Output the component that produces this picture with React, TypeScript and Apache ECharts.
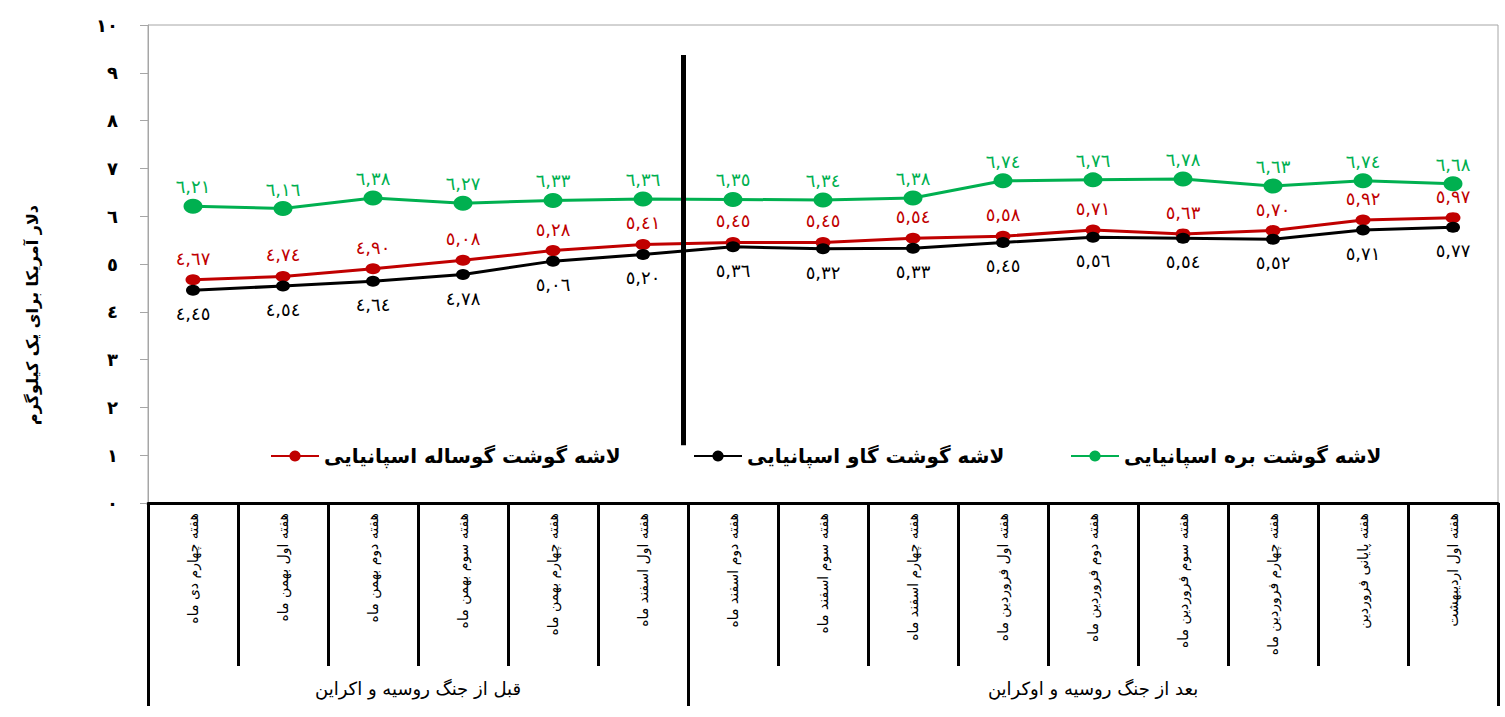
import React, { useEffect, useRef } from "react";
import * as echarts from "echarts";

const categories = [
  "هفته چهارم دی ماه",
  "هفته اول بهمن ماه",
  "هفته دوم بهمن ماه",
  "هفته سوم بهمن ماه",
  "هفته چهارم بهمن ماه",
  "هفته اول اسفند ماه",
  "هفته دوم اسفند ماه",
  "هفته سوم اسفند ماه",
  "هفته چهارم اسفند ماه",
  "هفته اول فروردین ماه",
  "هفته دوم فروردین ماه",
  "هفته سوم فروردین ماه",
  "هفته چهارم فروردین ماه",
  "هفته پایانی فروردین",
  "هفته اول اردیبهشت",
];

const groupNames = ["قبل از جنگ روسیه و اکراین", "بعد از جنگ روسیه و اوکراین"];
const groupBounds = [0, 6, 15];
const groupCenters = [3, 10.5];

const lambName = "لاشه گوشت بره اسپانیایی";
const beefName = "لاشه گوشت گاو اسپانیایی";
const vealName = "لاشه گوشت گوساله اسپانیایی";

const lambValues = [6.21, 6.16, 6.38, 6.27, 6.33, 6.36, 6.35, 6.34, 6.38, 6.74, 6.76, 6.78, 6.63, 6.74, 6.68];
const vealValues = [4.67, 4.74, 4.9, 5.08, 5.28, 5.41, 5.45, 5.45, 5.54, 5.58, 5.71, 5.63, 5.7, 5.92, 5.97];
const beefValues = [4.45, 4.54, 4.64, 4.78, 5.06, 5.2, 5.36, 5.32, 5.33, 5.45, 5.56, 5.54, 5.52, 5.71, 5.77];

const dividerLine = [
  [5.95, 9.37],
  [5.95, 1.21],
];

const yAxisName = "دلار آمریکا برای یک کیلوگرم";

const FONT = "DejaVu Sans";
const arabicDigits = "٠١٢٣٤٥٦٧٨٩";
const toArabic = (s: string) => s.replace(/[0-9]/g, (d) => arabicDigits[+d]).replace(".", ",");
const fmtVal = (v: number) => toArabic(v.toFixed(2));

export default function App() {
  const ref = useRef<HTMLDivElement>(null);
  useEffect(() => {
    if (!ref.current) return;
    const chart = echarts.init(ref.current, null, { renderer: "svg" });
    const labelCommon = { show: true, fontFamily: FONT, fontSize: 18, formatter: (p: any) => fmtVal(p.value) };
    const legendCommon = {
      top: 441,
      itemWidth: 48,
      itemHeight: 14,
      itemGap: 8,
      textStyle: { fontFamily: FONT, fontSize: 20, fontWeight: "bold", color: "#000" },
    };
    chart.setOption({
      animation: false,
      backgroundColor: "#fff",
      textStyle: { fontFamily: FONT },
      grid: { left: 148, right: 7, top: 25, bottom: 214, show: true, borderColor: "#a6a6a6", borderWidth: 1, backgroundColor: "#fff" },
      legend: [
        { ...legendCommon, left: 265, data: [vealName] },
        { ...legendCommon, left: 688, data: [beefName] },
        { ...legendCommon, left: 1065, data: [lambName] },
      ],
      xAxis: [
        {
          type: "category",
          data: categories,
          position: "bottom",
          boundaryGap: true,
          axisLine: { show: true, lineStyle: { color: "#000", width: 3 } },
          axisTick: { show: true, interval: 0, length: 163, lineStyle: { color: "#000", width: 3 } },
          axisLabel: { interval: 0, rotate: 90, margin: 10, fontFamily: FONT, fontSize: 14, color: "#000" },
          splitLine: { show: false },
        },
        {
          type: "value",
          min: 0,
          max: 15,
          position: "bottom",
          offset: 0,
          axisLine: { show: false },
          axisTick: { show: true, customValues: groupBounds, length: 203, lineStyle: { color: "#000", width: 3 } },
          axisLabel: {
            show: true,
            customValues: groupCenters,
            margin: 176,
            fontFamily: FONT,
            fontSize: 18,
            color: "#000",
            formatter: (v: number) => (v < 6 ? groupNames[0] : groupNames[1]),
          },
          splitLine: { show: false },
        },
      ],
      yAxis: {
        type: "value",
        min: 0,
        max: 10,
        interval: 1,
        name: yAxisName,
        nameLocation: "middle",
        nameRotate: 90,
        nameGap: 108,
        nameTextStyle: { fontFamily: FONT, fontSize: 16, fontWeight: "bold", color: "#000", padding: [0, 102, 0, 0] },
        axisLine: { show: true, lineStyle: { color: "#a6a6a6", width: 1 } },
        axisTick: { show: true, length: 8, lineStyle: { color: "#a6a6a6" } },
        axisLabel: { margin: 30, fontFamily: FONT, fontSize: 18, fontWeight: "bold", color: "#000", formatter: (v: number) => toArabic(String(v)) },
        splitLine: { show: false },
      },
      series: [
        {
          name: lambName,
          type: "line",
          data: lambValues,
          color: "#00b050",
          symbol: "circle",
          symbolSize: [19, 15],
          lineStyle: { width: 3, color: "#00b050" },
          itemStyle: { color: "#00b050" },
          label: { ...labelCommon, position: "top", color: "#00b050", distance: 3 },
          z: 3,
        },
        {
          name: vealName,
          type: "line",
          data: vealValues,
          symbol: "circle",
          symbolSize: [15, 11],
          lineStyle: { width: 3, color: "#c00000" },
          itemStyle: { color: "#c00000" },
          label: { ...labelCommon, position: "top", color: "#c00000", distance: 7 },
          z: 3,
        },
        {
          name: beefName,
          type: "line",
          data: beefValues,
          symbol: "circle",
          symbolSize: [14, 11],
          lineStyle: { width: 3, color: "#000" },
          itemStyle: { color: "#000" },
          label: { ...labelCommon, position: "bottom", color: "#000", distance: 9 },
          z: 3,
        },
        {
          name: "divider",
          type: "line",
          xAxisIndex: 1,
          data: dividerLine,
          symbol: "none",
          silent: true,
          lineStyle: { width: 5, color: "#000" },
          z: 5,
        },
      ],
    });
    return () => chart.dispose();
  }, []);
  return <div ref={ref} style={{ position: "fixed", left: 0, top: 0, width: 1505, height: 717 }} />;
}
